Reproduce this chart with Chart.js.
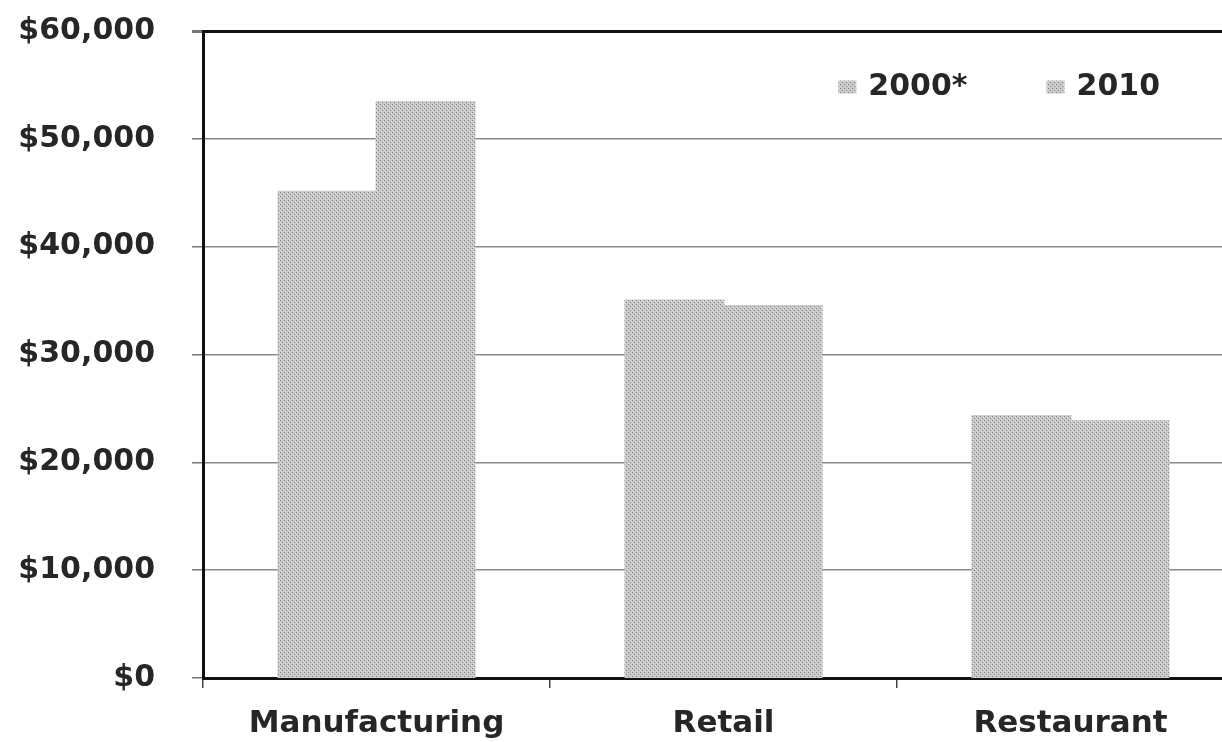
<!DOCTYPE html>
<html>
<head>
<meta charset="utf-8">
<script src="https://cdn.jsdelivr.net/npm/chart.js@4/dist/chart.umd.min.js"></script>
<style>
    html, body { margin: 0; padding: 0; background: #fff; overflow: hidden; }
    #wrap { position: relative; width: 1250px; height: 742px; }
</style>
</head>
<body>
<div id="wrap"><canvas id="chart"></canvas></div>
<script>
/* Average wage by industry, 2000 vs 2010 */
var CATEGORIES = ['Manufacturing', 'Retail', 'Restaurant'];
var WAGES_2000 = [45100, 35000, 24300];
var WAGES_2010 = [53400, 34500, 23800];
var SERIES_LABELS = ['2000*', '2010'];
var Y_MAX = 60000;
var Y_STEP = 10000;

var FONT = '"DejaVu Sans", Verdana, sans-serif';
var TEXT = '#262626';

// stippled grey fill, like a halftone print
function stipple() {
    var c = document.createElement('canvas');
    c.width = 4; c.height = 4;
    var g = c.getContext('2d');
    g.fillStyle = '#c8c8c8';
    g.fillRect(0, 0, 4, 4);
    g.fillStyle = '#808080';
    g.fillRect(0, 0, 1, 1);
    g.fillRect(2, 2, 1, 1);
    g.fillStyle = '#e2e2e2';
    g.fillRect(1, 3, 1, 1);
    g.fillRect(3, 1, 1, 1);
    return g.createPattern(c, 'repeat');
}
var BAR_FILL = stipple();

// small legend drawn inside the plot, top right
var plotLegend = {
    id: 'plotLegend',
    afterDraw: function (chart) {
        var g = chart.ctx;
        var right = 1160, cy = 87, box = 18, boxH = 13, gap = 12, between = 79;
        g.save();
        g.font = 'bold 30px ' + FONT;
        g.textBaseline = 'middle';
        g.textAlign = 'left';
        var items = chart.data.datasets.map(function (ds) {
            return { text: ds.label, fill: ds.backgroundColor, w: g.measureText(ds.label).width };
        });
        var total = 0;
        items.forEach(function (it, i) {
            total += box + gap + it.w + (i < items.length - 1 ? between : 0);
        });
        var x = right - total;
        items.forEach(function (it) {
            g.fillStyle = it.fill;
            g.fillRect(x, cy - boxH / 2, box, boxH);
            g.fillStyle = TEXT;
            g.fillText(it.text, x + box + gap, cy);
            x += box + gap + it.w + between;
        });
        g.restore();
    }
};

var ctx = document.getElementById('chart');
new Chart(ctx, {
    type: 'bar',
    data: {
        labels: CATEGORIES,
        datasets: [{
            label: SERIES_LABELS[0],
            data: WAGES_2000,
            backgroundColor: BAR_FILL,
            borderWidth: 0,
            inflateAmount: 1
        }, {
            label: SERIES_LABELS[1],
            data: WAGES_2010,
            backgroundColor: BAR_FILL,
            borderWidth: 0,
            inflateAmount: 1
        }]
    },
    options: {
        responsive: true,
        maintainAspectRatio: false,
        animation: false,
        datasets: { bar: { categoryPercentage: 0.565, barPercentage: 1 } },
        layout: { padding: { top: 31, right: 6, left: 0, bottom: 0 } },
        plugins: {
            tooltip: { enabled: false },
            legend: { display: false }
        },
        scales: {
            x: {
                afterFit: function (s) { s.height = 64; },
                border: { display: true, color: '#111', width: 3 },
                grid: {
                    drawOnChartArea: false,
                    drawTicks: true,
                    tickLength: 10,
                    tickColor: '#444',
                    lineWidth: 1.5
                },
                ticks: {
                    padding: 17,
                    color: TEXT,
                    font: { family: FONT, size: 31, weight: 'bold' }
                }
            },
            y: {
                min: 0,
                max: Y_MAX,
                afterFit: function (s) { s.width = 203; },
                border: { display: true, color: '#111', width: 3 },
                grid: {
                    // long tick slot keeps labels clear of the axis; only the inner 11px is inked
                    tickLength: 40,
                    tickBorderDash: [11, 29],
                    tickBorderDashOffset: 11,
                    color: function (c) {
                        return c.tick && c.tick.value === Y_MAX ? '#111' : '#8a8a8a';
                    },
                    lineWidth: function (c) {
                        return c.tick && c.tick.value === Y_MAX ? 3 : 1.5;
                    },
                    tickColor: '#777'
                },
                ticks: {
                    stepSize: Y_STEP,
                    padding: 8,
                    color: TEXT,
                    font: { family: FONT, size: 30, weight: 'bold' },
                    callback: function (v) { return '$' + v.toLocaleString('en-US'); }
                }
            }
        }
    },
    plugins: [plotLegend]
});
</script>
</body>
</html>
